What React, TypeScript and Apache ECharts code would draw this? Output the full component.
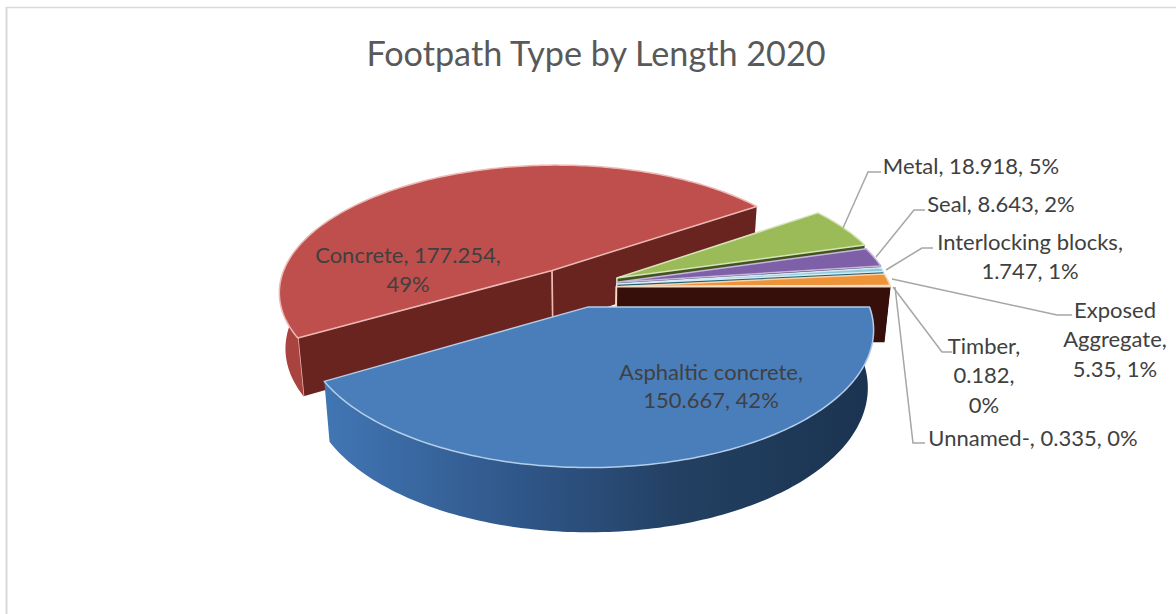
import React, { useEffect, useRef } from "react";
import * as echarts from "echarts";

const names = ["Asphaltic concrete", "Concrete", "Metal", "Seal", "Interlocking blocks", "Exposed Aggregate", "Timber", "Unnamed-"];
const values = [150.667, 177.254, 18.918, 8.643, 1.747, 5.35, 0.182, 0.335];
const percents = [42, 49, 5, 2, 1, 1, 0, 0];
const topColors = ["#4a7ebb", "#bf4f4c", "#9abb58", "#7e60a8", "#8fc9dc", "#ee9338", "#d5dbe8", "#efc9b0"];
const cutColors = ["#2c4d75", "#6a2420", "#41531f", "#3c2a55", "#1f5f70", "#7f4a1a", "#3a0f0a", "#360e0a"];
const edgeColors = ["#b4cde8", "#ecb9b5", "#d6e4b8", "#c6b6dc", "#d5eaf2", "#f7d3ad", "#f0ece8", "#f4d9c4"];
// where each slice has been pulled out to, in units of the pie radius
const explodeX = [0.012, -0.1225, 0.1176, 0.117, 0.116, 0.115, 0.115, 0.115];
const explodeY = [0.09, -0.195, -0.133, -0.1, -0.085, -0.065, -0.065, -0.065];
const paintOrder = [1, 2, 3, 4, 5, 6, 7, 0];

const CX = 585, CY = 295, RX = 277, RY = 130, K = 0.164, DEPTH = 56, SHRINK = 0.98;
const total = values.reduce((a, b) => a + b, 0);
const startAngles: number[] = [];
values.reduce((acc, v, i) => { startAngles[i] = acc; return acc + (v / total) * 360; }, 0);
const rad = (d: number) => (d * Math.PI) / 180;

function project(X: number, Y: number, low: boolean): number[] {
  const s = 1 / (1 - K * Y);
  const x = CX + RX * X * s;
  const y = CY + RY * Y * s;
  if (!low) return [x, y];
  return [CX + (x - CX) * SHRINK, CY + (y - CY) * SHRINK + DEPTH * s];
}

function rimPoint(i: number, deg: number, low: boolean) {
  return project(explodeX[i] + Math.cos(rad(deg)), explodeY[i] + Math.sin(rad(deg)), low);
}

function arc(i: number, a0: number, a1: number, low: boolean) {
  const pts: number[][] = [];
  const n = Math.max(2, Math.ceil(Math.abs(a1 - a0)));
  for (let j = 0; j <= n; j++) pts.push(rimPoint(i, a0 + ((a1 - a0) * j) / n, low));
  return pts;
}

function renderSlice(_: any, api: any) {
  const i = api.value(1);
  const a0 = startAngles[i];
  const a1 = a0 + (api.value(0) / total) * 360;
  const apexTop = project(explodeX[i], explodeY[i], false);
  const apexLow = project(explodeX[i], explodeY[i], true);
  const children: any[] = [];

  const cutFace = (deg: number, withRimLine: boolean) => {
    const rt = rimPoint(i, deg, false);
    const rl = rimPoint(i, deg, true);
    children.push({ type: "polygon", shape: { points: [apexTop, rt, rl, apexLow] }, style: { fill: cutColors[i] } });
    children.push({ type: "line", shape: { x1: apexTop[0], y1: apexTop[1], x2: apexLow[0], y2: apexLow[1] }, style: { stroke: edgeColors[i], lineWidth: 1.5 } });
    if (withRimLine) children.push({ type: "line", shape: { x1: rt[0], y1: rt[1], x2: rl[0], y2: rl[1] }, style: { stroke: edgeColors[i], lineWidth: 1.5 } });
  };
  if (Math.cos(rad(a0)) < 0) cutFace(a0, true);
  if (Math.cos(rad(a1)) > 0) cutFace(a1, false);

  // outer wall, only where it faces the viewer
  const wallEnd = Math.min(a1, 181);
  if (a0 < wallEnd) {
    const pts = arc(i, a0, wallEnd, false).concat(arc(i, wallEnd, a0, true));
    const fill = a0 === 0
      ? new echarts.graphic.LinearGradient(0, 0, 1, 0, [
          { offset: 0, color: "#4176b4" },
          { offset: 0.35, color: "#30578a" },
          { offset: 0.65, color: "#234062" },
          { offset: 1, color: "#1a3350" },
        ])
      : "#a84340";
    children.push({ type: "polygon", shape: { points: pts }, style: { fill } });
  }

  children.push({
    type: "polygon",
    shape: { points: [apexTop, ...arc(i, a0, a1, false)] },
    style: { fill: topColors[i], stroke: edgeColors[i], lineWidth: 1.5, lineJoin: "round" },
  });
  return { type: "group", children };
}

const TEXT = "#404040";
const FONT = "Lato";
const LABEL_SIZE = 22;

function label(lines: string[], cx: number, firstY: number, gap = 29.5) {
  return lines.map((t, j) => ({
    type: "text", z: 20, x: cx, y: firstY + j * gap,
    style: { text: t, fill: TEXT, font: `${LABEL_SIZE}px ${FONT}`, textAlign: "center", textVerticalAlign: "middle" },
  }));
}
const full = (i: number) => `${names[i]}, ${values[i]}, ${percents[i]}%`;
const tail = (i: number) => `${values[i]}, ${percents[i]}%`;

const leaders: number[][][] = [
  [[843, 228], [868, 172], [881, 172]],
  [[876, 257], [914, 210], [925, 210]],
  [[886, 270], [922, 248], [933, 248]],
  [[892, 279], [1057, 315], [1072, 315]],
  [[893, 287], [942, 352], [952, 352]],
  [[895, 287], [913, 443], [925, 443]],
];

export default function App() {
  const ref = useRef<HTMLDivElement>(null);
  useEffect(() => {
    const chart = echarts.init(ref.current!, undefined, { renderer: "svg" });
    chart.setOption({
      animation: false,
      backgroundColor: "#ffffff",
      title: {
        text: "Footpath Type by Length 2020",
        left: 596, top: 30, textAlign: "center",
        textStyle: { color: "#595959", fontSize: 34.2, fontWeight: "normal", fontFamily: FONT },
        padding: [5, 11, 5, 0],
      },
      graphic: [
        { type: "line", z: 1, shape: { x1: 6, y1: 7.5, x2: 1176, y2: 7.5 }, style: { stroke: "#d9d9d9", lineWidth: 1.5 } },
        { type: "line", z: 1, shape: { x1: 6.5, y1: 7, x2: 6.5, y2: 614 }, style: { stroke: "#d9d9d9", lineWidth: 2 } },
        ...leaders.map((points) => ({ type: "polyline", z: 15, shape: { points }, style: { stroke: "#a6a6a6", lineWidth: 1.5, fill: "none" } })),
        ...label([`${names[0]},`, tail(0)], 711, 371, 28),
        ...label([`${names[1]}, ${values[1]},`, `${percents[1]}%`], 408, 254),
        ...label([full(2)], 971, 165),
        ...label([full(3)], 1001, 203),
        ...label(["Interlocking blocks,", tail(4)], 1030, 241),
        ...label(["Exposed", "Aggregate,", tail(5)], 1115, 309),
        ...label(["Timber,", `${values[6]},`, `${percents[6]}%`], 984, 345),
        ...label([full(7)], 1033, 437),
      ],
      series: [
        {
          type: "custom",
          coordinateSystem: "none",
          silent: true,
          renderItem: renderSlice,
          data: paintOrder.map((i) => [values[i], i]),
        },
      ],
    });
    return () => chart.dispose();
  }, []);
  return <div ref={ref} style={{ position: "absolute", left: 0, top: 0, width: 1176, height: 614 }} />;
}
